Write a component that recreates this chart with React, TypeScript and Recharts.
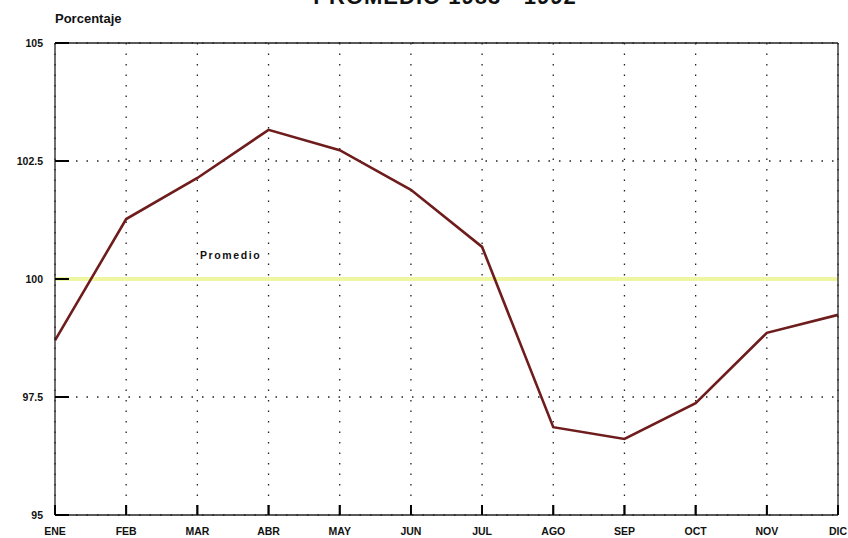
import React from "react"
import { LineChart, Line, XAxis, YAxis, CartesianGrid, ReferenceLine } from "recharts"

const months = ["ENE", "FEB", "MAR", "ABR", "MAY", "JUN", "JUL", "AGO", "SEP", "OCT", "NOV", "DIC"]
const porcentaje = [98.7, 101.27, 102.14, 103.16, 102.73, 101.89, 100.68, 96.86, 96.61, 97.37, 98.86, 99.24]
const yTicks = [95, 97.5, 100, 102.5, 105]
const promedio = 100

const data = months.map((m, i) => ({ mes: m, valor: porcentaje[i] }))

const font = "'Liberation Sans', Arial, sans-serif"

// tick lines point inward (negative tickSize); y here is the inner end of the tick
const BottomLabel = (props: any) => {
  const { x, y, payload } = props
  return (
    <g>
      <path d={`M${x},${y}L${x},${y + 10}`} stroke="#000" strokeWidth={1.8} fill="none" />
      <text x={x} y={y + 30} textAnchor="middle" fontFamily={font} fontWeight="bold" fontSize={10.5} fill="#111">
        {payload.value}
      </text>
    </g>
  )
}

const LeftLabel = (props: any) => {
  const { x, y, payload } = props
  return (
    <g>
      <path d={`M${x - 14},${y}L${x},${y}`} stroke="#000" strokeWidth={1.8} fill="none" />
      <text x={x - 26} y={y + 4} textAnchor="end" fontFamily={font} fontWeight="bold" fontSize={10.5} fill="#111">
        {payload.value}
      </text>
    </g>
  )
}

const PromedioLabel = (props: any) => {
  const { viewBox } = props
  return (
    <text
      x={viewBox.x + 145}
      y={viewBox.y - 20}
      fontFamily={font}
      fontWeight="bold"
      fontSize={10.5}
      letterSpacing={1.6}
      fill="#111"
    >
      Promedio
    </text>
  )
}

export default function App() {
  return (
    <div style={{ position: "absolute", left: 0, top: 0, width: 848, height: 538, background: "#fff" }}>
      <svg width={848} height={40} style={{ position: "absolute", left: 0, top: 0 }}>
        <text x={445} y={4} textAnchor="middle" fontFamily={font} fontWeight="bold" fontSize={22} letterSpacing={1} fill="#111">
          PROMEDIO 1983 - 1992
        </text>
        <text x={55} y={23} fontFamily={font} fontWeight="bold" fontSize={13} fill="#111">
          Porcentaje
        </text>
      </svg>
      <div style={{ position: "absolute", left: 0, top: 0 }}>
        <LineChart width={848} height={538} data={data} margin={{ top: 42, right: 9, left: 0, bottom: 0 }}>
          <CartesianGrid stroke="#222" strokeDasharray="1.5 9" strokeWidth={1.3} xAxisId="bottom" yAxisId="left" />
          <ReferenceLine
            xAxisId="bottom"
            yAxisId="left"
            y={promedio}
            stroke="#eef6a2"
            strokeWidth={4}
            label={<PromedioLabel />}
          />
          <XAxis
            xAxisId="bottom"
            dataKey="mes"
            height={23}
            interval={0}
            axisLine={{ stroke: "#222", strokeWidth: 1.3 }}
            tickLine={{ stroke: "#000", strokeWidth: 1.8 }}
            tickSize={-10}
            tickMargin={0}
            tick={<BottomLabel />}
          />
          <XAxis
            xAxisId="top"
            orientation="top"
            dataKey="mes"
            height={1}
            axisLine={{ stroke: "#222", strokeWidth: 1.3 }}
            tickLine={false}
            tick={false}
          />
          <YAxis
            yAxisId="left"
            width={55}
            domain={[95, 105]}
            ticks={yTicks}
            interval={0}
            axisLine={{ stroke: "#222", strokeWidth: 1.3 }}
            tickLine={{ stroke: "#000", strokeWidth: 1.8 }}
            tickSize={-14}
            tickMargin={0}
            tick={<LeftLabel />}
          />
          <YAxis
            yAxisId="right"
            orientation="right"
            width={1}
            domain={[95, 105]}
            axisLine={{ stroke: "#222", strokeWidth: 1.3 }}
            tickLine={false}
            tick={false}
          />
          <Line
            xAxisId="bottom"
            yAxisId="left"
            type="linear"
            dataKey="valor"
            stroke="#6e1c1c"
            strokeWidth={2.6}
            dot={false}
            isAnimationActive={false}
          />
        </LineChart>
      </div>
    </div>
  )
}
